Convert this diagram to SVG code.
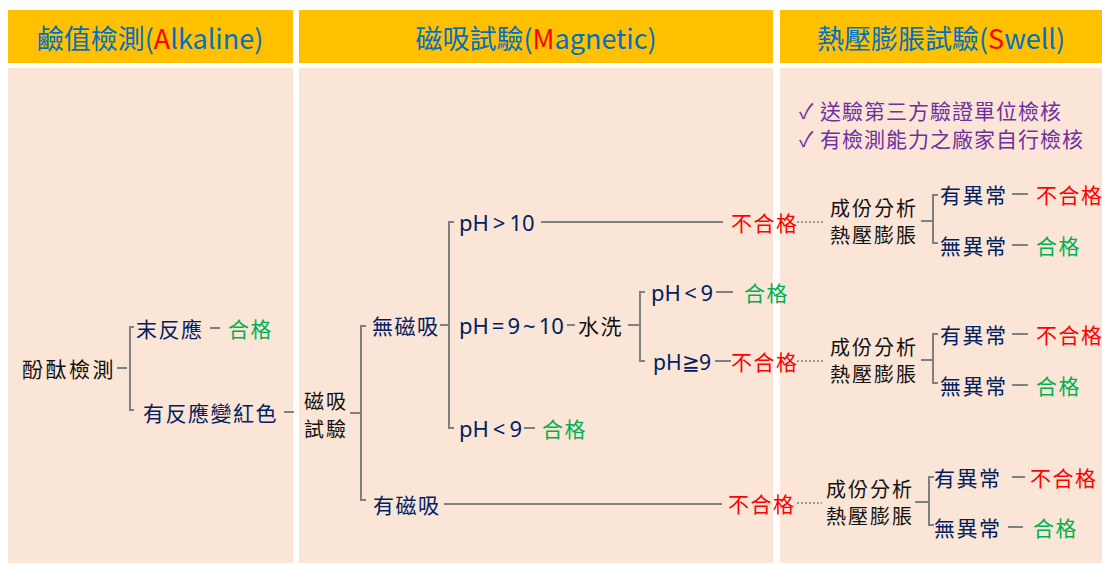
<svg xmlns="http://www.w3.org/2000/svg" width="1102" height="565" viewBox="0 0 1102 565">
<style>
text{font-family:"Noto Sans CJK TC","Noto Sans",sans-serif;dominant-baseline:central;font-size:21px;letter-spacing:1.5px}
.hd{font-size:27px;fill:#0070C0;text-anchor:middle;letter-spacing:0}
.r{fill:#FF0000}
.g{fill:#00B050}
.n{fill:#002060}
.k{fill:#111111}
.two{font-size:20px;letter-spacing:2px}
.ph{font-family:"Noto Sans",sans-serif;font-size:22px;letter-spacing:0}
.p{fill:#7030A0;font-size:21px;letter-spacing:1px}
.ln{stroke:#808080;stroke-width:2;fill:none}
.dt{stroke:#808080;stroke-width:1.5;stroke-dasharray:2 2;fill:none}
</style>
<rect width="1102" height="565" fill="#FFFFFF"/>
<g id="headers">
<rect x="8" y="10" width="285" height="53" fill="#FFC000"/>
<rect x="299" y="10" width="474" height="53" fill="#FFC000"/>
<rect x="780" y="10" width="322" height="53" fill="#FFC000"/>
<text class="hd" x="150" y="37">鹼值檢測(<tspan class="r">A</tspan>lkaline)</text>
<text class="hd" x="536" y="37">磁吸試驗(<tspan class="r">M</tspan>agnetic)</text>
<text class="hd" x="941" y="37">熱壓膨脹試驗(<tspan class="r">S</tspan>well)</text>
</g>
<g id="panels">
<rect x="8" y="68" width="285" height="495" fill="#FBE5D6"/>
<rect x="299" y="68" width="474" height="495" fill="#FBE5D6"/>
<rect x="780" y="68" width="322" height="495" fill="#FBE5D6"/>
</g>
<g id="notes">
<text class="p" x="799" y="110">✓ 送驗第三方驗證單位檢核</text>
<text class="p" x="799" y="138">✓ 有檢測能力之廠家自行檢核</text>
</g>
<g id="connectors">
<line class="ln" x1="117" y1="368" x2="127" y2="368"/>
<path class="ln" d="M134 327 H130 V410 H134"/>
<line class="ln" x1="210" y1="328" x2="220" y2="328"/>
<line class="ln" x1="284" y1="412" x2="294" y2="412"/>
<line class="ln" x1="350" y1="413" x2="361" y2="413"/>
<path class="ln" d="M366 326 H361 V500 H366"/>
<line class="ln" x1="440" y1="325" x2="449" y2="325"/>
<path class="ln" d="M454 222 H449 V428 H454"/>
<line class="ln" x1="541" y1="222" x2="723" y2="222"/>
<line class="ln" x1="567" y1="325" x2="575" y2="325"/>
<line class="ln" x1="628" y1="325" x2="640" y2="325"/>
<path class="ln" d="M645 292 H640 V361 H645"/>
<line class="ln" x1="716" y1="292" x2="733" y2="292"/>
<line class="ln" x1="715" y1="361" x2="731" y2="361"/>
<line class="ln" x1="524" y1="428" x2="535" y2="428"/>
<line class="ln" x1="444" y1="504" x2="722" y2="504"/>
<line class="dt" x1="797" y1="222" x2="823" y2="222"/>
<line class="dt" x1="797" y1="361" x2="823" y2="361"/>
<line class="dt" x1="797" y1="503" x2="822" y2="503"/>
<line class="ln" x1="921" y1="221" x2="933" y2="221"/>
<path class="ln" d="M938 195 H933 V243 H938"/>
<line class="ln" x1="1012" y1="194" x2="1028" y2="194"/>
<line class="ln" x1="1012" y1="245" x2="1028" y2="245"/>
<line class="ln" x1="921" y1="360" x2="933" y2="360"/>
<path class="ln" d="M938 334 H933 V383 H938"/>
<line class="ln" x1="1012" y1="334" x2="1028" y2="334"/>
<line class="ln" x1="1012" y1="385" x2="1028" y2="385"/>
<line class="ln" x1="915" y1="502" x2="929" y2="502"/>
<path class="ln" d="M934 477 H929 V525 H934"/>
<line class="ln" x1="1012" y1="477" x2="1025" y2="477"/>
<line class="ln" x1="1008" y1="527" x2="1023" y2="527"/>
</g>
<g id="n-phenol"><text class="k" x="22" y="368" style="letter-spacing:2.5px">酚酞檢測</text></g>
<g id="n-noreact"><text class="n" x="136" y="328">末反應</text><text class="g" x="228" y="328">合格</text></g>
<g id="n-react"><text class="n" x="143" y="412">有反應變紅色</text></g>
<g id="n-magtest"><text class="k two" x="304" y="400">磁吸</text><text class="k two" x="304" y="428">試驗</text></g>
<g id="n-nomag"><text class="n" x="372" y="325">無磁吸</text></g>
<g id="n-ph10"><text class="n ph" x="459" y="222">pH<tspan dx="4">&gt;</tspan><tspan dx="4">10</tspan></text><text class="r" x="731" y="222">不合格</text></g>
<g id="n-ph910"><text class="n ph" x="459" y="325">pH<tspan dx="3">=</tspan><tspan dx="3">9</tspan><tspan dx="3">~</tspan><tspan dx="3">10</tspan></text><text class="k" x="578" y="325">水洗</text></g>
<g id="n-wash-lt9"><text class="n ph" x="651" y="292">pH<tspan dx="3.5">&lt;</tspan><tspan dx="3.5">9</tspan></text><text class="g" x="744" y="292">合格</text></g>
<g id="n-wash-ge9"><text class="n ph" x="653" y="361" textLength="58" lengthAdjust="spacingAndGlyphs">pH≧9</text><text class="r" x="731" y="361">不合格</text></g>
<g id="n-ph-lt9"><text class="n ph" x="459" y="428">pH<tspan dx="4">&lt;</tspan><tspan dx="4">9</tspan></text><text class="g" x="542" y="428">合格</text></g>
<g id="n-mag"><text class="n" x="373" y="504">有磁吸</text><text class="r" x="728" y="503">不合格</text></g>
<g id="n-swell1"><text class="k two" x="830" y="207">成份分析</text><text class="k two" x="830" y="234">熱壓膨脹</text>
<text class="n" x="940" y="194">有異常</text><text class="r" x="1036" y="194">不合格</text>
<text class="n" x="940" y="245">無異常</text><text class="g" x="1036" y="245">合格</text></g>
<g id="n-swell2"><text class="k two" x="830" y="346">成份分析</text><text class="k two" x="830" y="373">熱壓膨脹</text>
<text class="n" x="940" y="334">有異常</text><text class="r" x="1036" y="334">不合格</text>
<text class="n" x="940" y="385">無異常</text><text class="g" x="1036" y="385">合格</text></g>
<g id="n-swell3"><text class="k two" x="826" y="488">成份分析</text><text class="k two" x="826" y="515">熱壓膨脹</text>
<text class="n" x="934" y="477">有異常</text><text class="r" x="1030" y="477">不合格</text>
<text class="n" x="934" y="527">無異常</text><text class="g" x="1033" y="527">合格</text></g>
</svg>
